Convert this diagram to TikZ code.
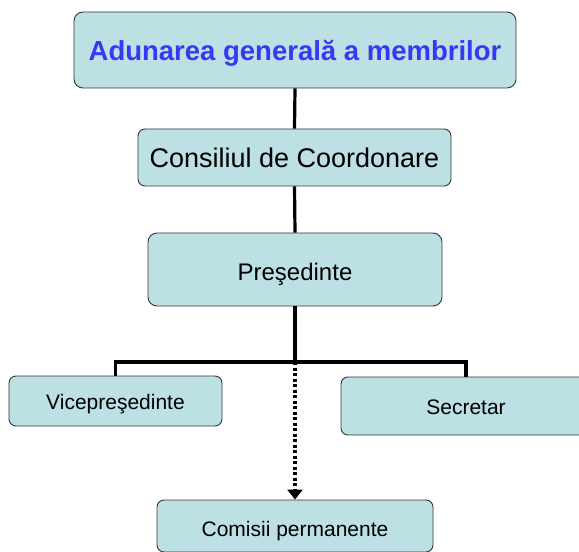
\documentclass[tikz,border=0pt]{standalone}
\usepackage{fontspec}
\setmainfont{Liberation Sans}
\usetikzlibrary{arrows.meta}
\definecolor{boxfill}{RGB}{188,224,227}
\definecolor{boxline}{RGB}{55,55,55}
\definecolor{titleblue}{RGB}{55,55,245}
\tikzset{
  orgbox/.style={draw=boxline, line width=0.9bp, fill=boxfill, rounded corners=9bp,
    inner sep=0pt, align=center},
  link/.style={line width=3.2bp, black},
  dotlink/.style={line width=3.4bp, black, dash pattern=on 3bp off 2.5bp,
    -{Triangle[width=15bp,length=10bp]}}
}
\newcommand{\basetext}[2]{\raisebox{-#1bp}[0pt][0pt]{#2}}
\begin{document}
\begin{tikzpicture}[x=1bp,y=-1bp]
\useasboundingbox (0,0) rectangle (579,552);
\fill[white] (0,0) rectangle (579,552);
\node[orgbox, minimum width=442bp, minimum height=76bp, font=\fontsize{27.5bp}{30bp}\selectfont\bfseries, text=titleblue] (top) at (295,50) {\basetext{11}{Adunarea generală a membrilor}};
\node[orgbox, rounded corners=7bp, minimum width=313bp, minimum height=57bp, font=\fontsize{27bp}{30bp}\selectfont] (cons) at (294.5,157.5) {\basetext{10.5}{Consiliul de Coordonare}};
\node[orgbox, minimum width=294bp, minimum height=73bp, font=\fontsize{24bp}{28bp}\selectfont] (pres) at (295,269.5) {\basetext{10.5}{Preşedinte}};
\node[orgbox, rounded corners=7bp, minimum width=213bp, minimum height=50bp, font=\fontsize{21bp}{24bp}\selectfont] (vice) at (115.5,401) {\basetext{8}{Vicepreşedinte}};
\node[orgbox, rounded corners=7bp, minimum width=250bp, minimum height=58bp, font=\fontsize{21bp}{24bp}\selectfont] (sec) at (466,406) {\basetext{8}{Secretar}};
\node[orgbox, rounded corners=7bp, minimum width=276bp, minimum height=52bp, font=\fontsize{21bp}{24bp}\selectfont] (com) at (295,526) {\basetext{10}{Comisii permanente}};
\coordinate (branch) at (295,362);
\draw[link] (top.south) -- (cons.north);
\draw[link] (cons.south) -- (pres.north);
\draw[link] (pres.south) -- (branch);
\draw[link] (branch) -| (vice.north);
\draw[link] (branch) -| (sec.north);
\draw[dotlink] (branch) -- (com.north);
\end{tikzpicture}
\end{document}
